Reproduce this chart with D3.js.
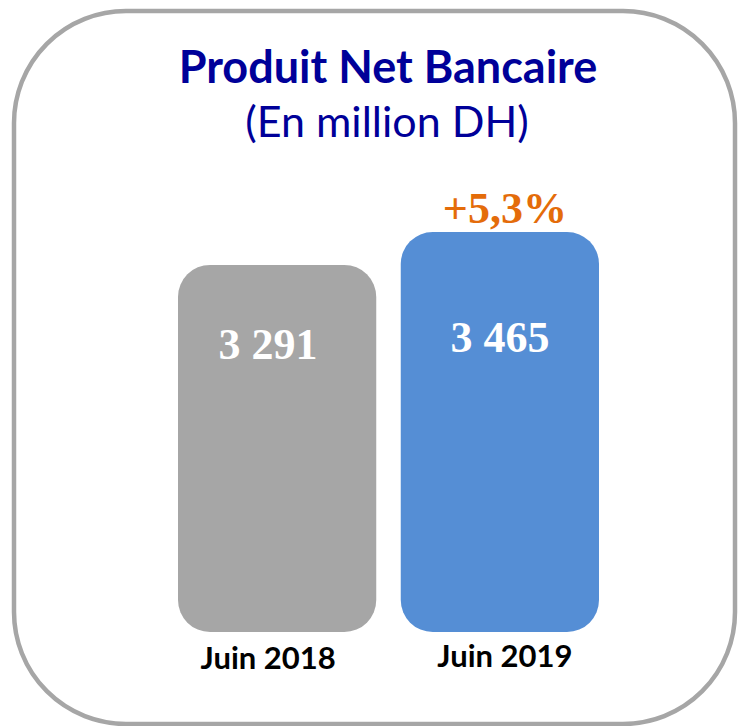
<!DOCTYPE html>
<html>
<head>
<meta charset="utf-8">
<script src="https://cdn.jsdelivr.net/npm/d3@7"></script>
<style>
  body { margin: 0; background: #fff; }
  svg { display: block; }
</style>
</head>
<body>
<svg id="chart" width="739" height="726"></svg>
<script>
// données
const categories = ['Juin 2018', 'Juin 2019'];
const values = [3291, 3465];
const valueLabels = ['3 291', '3 465'];
const growthLabel = '+5,3%';
const title = 'Produit Net Bancaire';
const subtitle = '(En million DH)';

const colors = ['#a6a6a6', '#558ed5'];

const svg = d3.select('#chart');

// cadre arrondi
svg.append('rect')
  .attr('x', 14).attr('y', 11)
  .attr('width', 721).attr('height', 713)
  .attr('rx', 112).attr('ry', 112)
  .attr('fill', '#fff')
  .attr('stroke', '#a6a6a6')
  .attr('stroke-width', 4.5);

// titre
svg.append('text')
  .attr('x', 388).attr('y', 83)
  .attr('text-anchor', 'middle')
  .attr('font-family', 'Lato, sans-serif')
  .attr('font-weight', 'bold')
  .attr('font-size', 45)
  .attr('fill', '#000099')
  .text(title);

svg.append('text')
  .attr('x', 387).attr('y', 137)
  .attr('text-anchor', 'middle')
  .attr('font-family', 'Lato, sans-serif')
  .attr('font-size', 43)
  .attr('fill', '#000099')
  .text(subtitle);

// échelles
const x = d3.scaleBand()
  .domain(categories)
  .range([178, 599])
  .paddingInner(0.11)
  .paddingOuter(0);

const y = d3.scaleLinear()
  .domain([1350, 3465])
  .range([632, 232]);

const bars = svg.append('g');

bars.selectAll('rect')
  .data(values)
  .join('rect')
    .attr('x', (d, i) => x(categories[i]))
    .attr('y', d => y(d))
    .attr('width', x.bandwidth())
    .attr('height', d => y.range()[0] - y(d))
    .attr('rx', 32).attr('ry', 32)
    .attr('fill', (d, i) => colors[i]);

// valeurs
bars.selectAll('text.val')
  .data(values)
  .join('text')
    .attr('class', 'val')
    .attr('x', (d, i) => x(categories[i]) + x.bandwidth() / 2 - (i === 0 ? 9 : 0))
    .attr('y', (d, i) => y(d) + (i === 0 ? 94 : 120))
    .attr('text-anchor', 'middle')
    .attr('font-family', '"Liberation Serif", serif')
    .attr('font-weight', 'bold')
    .attr('font-size', 44)
    .attr('fill', '#fff')
    .text((d, i) => valueLabels[i]);

// croissance
svg.append('text')
  .attr('x', x(categories[1]) + x.bandwidth() / 2 + 5)
  .attr('y', y(values[1]) - 9)
  .attr('text-anchor', 'middle')
  .attr('font-family', '"Liberation Serif", serif')
  .attr('font-weight', 'bold')
  .attr('font-size', 44)
  .attr('fill', '#e46c0a')
  .text(growthLabel);

// catégories
svg.selectAll('text.cat')
  .data(categories)
  .join('text')
    .attr('class', 'cat')
    .attr('x', (d, i) => x(d) + x.bandwidth() / 2 + (i === 0 ? -9 : 5))
    .attr('y', (d, i) => i === 0 ? 669 : 667)
    .attr('text-anchor', 'middle')
    .attr('font-family', 'Lato, sans-serif')
    .attr('font-weight', 'bold')
    .attr('font-size', 31)
    .attr('fill', '#000')
    .text(d => d);
</script>
</body>
</html>
